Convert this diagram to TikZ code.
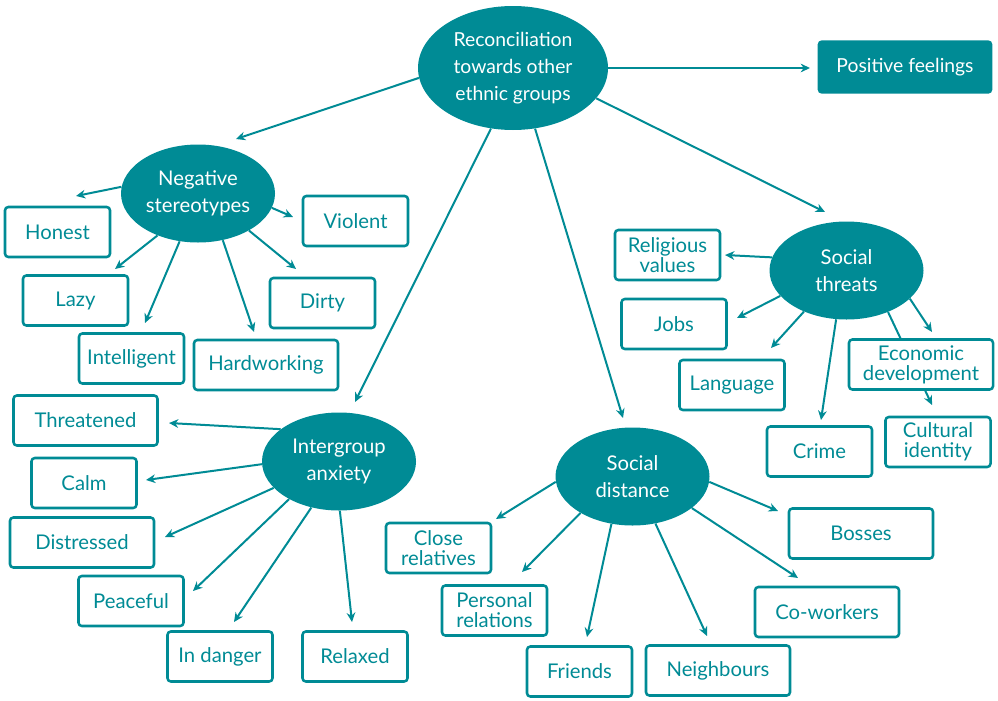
\documentclass[tikz,border=0pt]{standalone}
\usepackage{fontspec}
\setmainfont{Lato}
\usetikzlibrary{arrows.meta,shapes.geometric,backgrounds}
\definecolor{mapteal}{RGB}{0,139,149}

\begin{document}
\begin{tikzpicture}[x=0.75pt, y=-0.75pt,
    hub/.style={ellipse, fill=mapteal, text=white, inner sep=0pt, minimum width=115.5pt, minimum height=73.5pt, align=center, font=\fontsize{15.2}{20}\selectfont},
    item/.style={draw=mapteal, line width=1.9pt, rounded corners=2.5pt, fill=white, text=mapteal, minimum width=78.75pt, minimum height=37.5pt, align=center, inner sep=0pt, font=\fontsize{15.2}{15}\selectfont},
    wide/.style={item, minimum width=108pt},
    arr/.style={draw=mapteal, line width=1.5pt, -{Stealth[length=7pt,width=6.5pt]}}]

    \useasboundingbox (0,0) rectangle (998,700);

    % Centre
    \node[hub, minimum width=142.5pt, minimum height=93pt, font=\fontsize{14.5}{20}\selectfont] (rec) at (513,68) {Reconciliation\\towards other\\ethnic groups};
    \node[fill=mapteal, text=white, rounded corners=3pt, minimum width=131pt, minimum height=40pt, font=\fontsize{14.5}{15}\selectfont] (pos) at (905,67) {Positive feelings};

    % Negative stereotypes
    \node[hub] (neg) at (198,193.5) {Negative\\stereotypes};
    \node[item] (honest) at (57.5,232) {Honest};
    \node[item] (lazy) at (75.5,300.5) {Lazy};
    \node[item] (intel) at (131.5,358.5) {Intelligent};
    \node[wide] (hard) at (266,365) {Hardworking};
    \node[item] (dirty) at (322.5,303) {Dirty};
    \node[item] (violent) at (355.5,221) {Violent};

    % Intergroup anxiety
    \node[hub] (anx) at (339,461.5) {Intergroup\\anxiety};
    \node[wide] (threat) at (85.5,420.5) {Threatened};
    \node[item] (calm) at (84,483) {Calm};
    \node[wide] (distr) at (82,542.5) {Distressed};
    \node[item] (peace) at (131,601) {Peaceful};
    \node[item] (danger) at (220,656.5) {In danger};
    \node[item] (relax) at (355,656.5) {Relaxed};

    % Social distance
    \node[hub] (dist) at (632.5,476.5) {Social\\distance};
    \node[item] (close) at (438.5,548) {Close\\relatives};
    \node[item] (pers) at (494.5,610.5) {Personal\\relations};
    \node[item] (friends) at (579.5,671.5) {Friends};
    \node[wide] (neigh) at (718,670.5) {Neighbours};
    \node[wide] (cowork) at (827,612) {Co-workers};
    \node[wide] (bosses) at (861,533.5) {Bosses};

    % Social threats
    \node[hub] (thr) at (846.5,270.5) {Social\\threats};
    \node[item] (relig) at (667.5,255) {Religious\\values};
    \node[item] (jobs) at (674,324) {Jobs};
    \node[item] (lang) at (732,385) {Language};
    \node[item] (crime) at (819.5,451.5) {Crime};
    \node[wide] (econ) at (921,364.5) {Economic\\development};
    \node[item] (cult) at (938,442) {Cultural\\identity};

    % Arrow tips
    \coordinate (tpos) at (810,68);
    \coordinate (tneg) at (236,139);
    \coordinate (tanx) at (355,402);
    \coordinate (tdist) at (623,418);
    \coordinate (tthr) at (825,212);
    \coordinate (thonest) at (76,196);
    \coordinate (tviolent) at (293,217);
    \coordinate (tdirty) at (296,269);
    \coordinate (thard) at (254,332);
    \coordinate (tintel) at (145,323);
    \coordinate (tlazy) at (115,269);
    \coordinate (trelig) at (725,255);
    \coordinate (tjobs) at (737,318);
    \coordinate (tlang) at (771,348);
    \coordinate (tcrime) at (821,420);
    \coordinate (tcult) at (932,405);
    \coordinate (tecon) at (932,332);
    \coordinate (tthreat) at (169,423);
    \coordinate (tcalm) at (146,480);
    \coordinate (tdistr) at (165,537);
    \coordinate (tpeace) at (193,591);
    \coordinate (tdanger) at (234,622);
    \coordinate (trelax) at (352,622);
    \coordinate (tclose) at (496,519);
    \coordinate (tpers) at (522,572);
    \coordinate (tfriends) at (587,637);
    \coordinate (tneigh) at (707,636);
    \coordinate (tbosses) at (778,511);
    \coordinate (tcowork) at (798,578);

    % Arrows
    \begin{pgfonlayer}{background}
      \foreach \a/\t in {0/tpos, 186/tneg, 250/tanx, 290/tdist, 340/tthr}
        \draw[arr] (rec.\a) -- (\t);
      \foreach \a/\t in {175/thonest, 349/tviolent, 324/tdirty, 298/thard, 249/tintel, 226/tlazy}
        \draw[arr] (neg.\a) -- (\t);
      \foreach \a/\t in {170/trelig, 201/tjobs, 224/tlang, 258/tcrime, 315/tcult, 336/tecon}
        \draw[arr] (thr.\a) -- (\t);
      \foreach \a/\t in {151/tthreat, 182/tcalm, 202/tdistr, 217/tpeace, 239/tdanger, 271/trelax}
        \draw[arr] (anx.\a) -- (\t);
      \foreach \a/\t in {184/tclose, 215/tpers, 246/tfriends, 296/tneigh, 356/tbosses, 332/tcowork}
        \draw[arr] (dist.\a) -- (\t);
    \end{pgfonlayer}

\end{tikzpicture}
\end{document}
